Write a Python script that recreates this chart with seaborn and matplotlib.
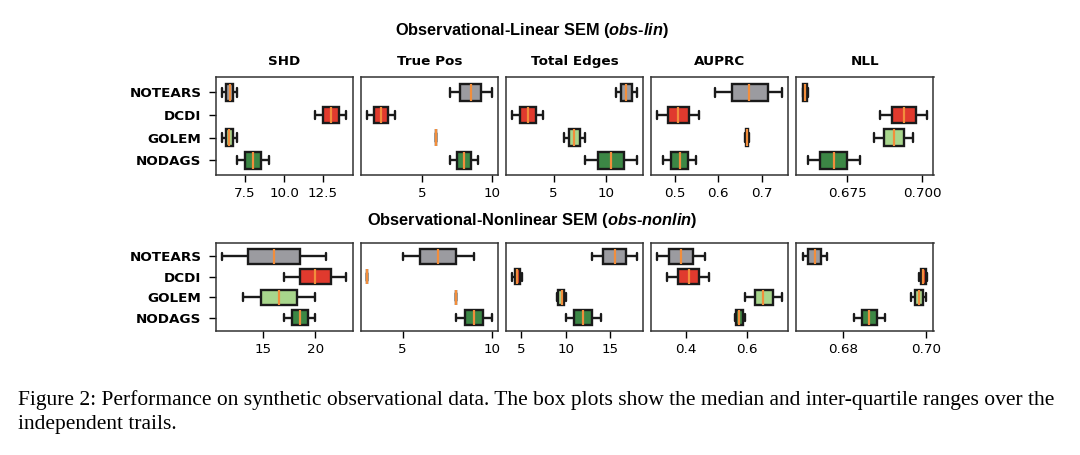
import numpy as np
import pandas as pd
import matplotlib
matplotlib.use("Agg")
import matplotlib.pyplot as plt
import seaborn as sns

# ---------------- data ----------------
methods = ["NOTEARS", "DCDI", "GOLEM", "NODAGS"]
colors = ["#9b9ba0", "#e03a2e", "#a8d68c", "#3c8745"]
metrics = ["SHD", "True Pos", "Total Edges", "AUPRC", "NLL"]

# per method: five-number summary (min, q1, median, q3, max)
lin_shd = [[6.0, 6.25, 6.5, 6.75, 7.0], [12.0, 12.5, 13.0, 13.5, 14.0],
           [6.0, 6.25, 6.45, 6.75, 7.0], [7.0, 7.5, 8.0, 8.5, 9.0]]
lin_tp = [[7, 7.75, 8.5, 9.25, 10], [1, 1.5, 2, 2.5, 3],
          [6, 6, 6, 6, 6], [7, 7.5, 8, 8.5, 9]]
lin_te = [[11, 11.5, 12, 12.5, 13], [1, 1.75, 2.5, 3.25, 4],
          [6, 6.5, 7, 7.5, 8], [8, 9.25, 10.5, 11.75, 13]]
lin_auprc = [[0.593, 0.631, 0.670, 0.715, 0.747], [0.460, 0.484, 0.508, 0.532, 0.555],
             [0.662, 0.665, 0.667, 0.669, 0.671], [0.473, 0.492, 0.513, 0.530, 0.549]]
lin_nll = [[0.6600, 0.6603, 0.6609, 0.6616, 0.6620], [0.6858, 0.6898, 0.6938, 0.6978, 0.7017],
           [0.6840, 0.6873, 0.6906, 0.6938, 0.6970], [0.6617, 0.6660, 0.6704, 0.6750, 0.6792]]

nonlin_shd = [[11, 13.5, 16, 18.5, 21], [17, 18.5, 20, 21.5, 23],
              [13, 14.75, 16.5, 18.25, 20], [17, 17.75, 18.5, 19.25, 20]]
nonlin_tp = [[5, 6, 7, 8, 9], [3, 3, 3, 3, 3],
             [8, 8, 8, 8, 8], [8, 8.5, 9, 9.5, 10]]
nonlin_te = [[13, 14.25, 15.5, 16.75, 18], [4.0, 4.3, 4.6, 4.9, 5.1],
             [9, 9.2, 9.55, 9.85, 10.1], [10, 11, 12, 13, 14]]
nonlin_auprc = [[0.306, 0.344, 0.383, 0.423, 0.462], [0.338, 0.373, 0.408, 0.441, 0.476],
                [0.594, 0.624, 0.653, 0.684, 0.714], [0.559, 0.564, 0.574, 0.585, 0.592]]
nonlin_nll = [[0.6704, 0.6718, 0.6734, 0.6749, 0.6762], [0.6982, 0.6986, 0.6992, 0.6998, 0.7002],
              [0.6962, 0.6972, 0.6982, 0.6992, 0.7000], [0.6826, 0.6845, 0.6864, 0.6882, 0.6902]]

lin_ticks = [[7.5, 10.0, 12.5], [5, 10], [5, 10], [0.5, 0.6, 0.7], [0.675, 0.700]]
lin_ticklabels = [["7.5", "10.0", "12.5"], ["5", "10"], ["5", "10"],
                  ["0.5", "0.6", "0.7"], ["0.675", "0.700"]]
nonlin_ticks = [[15, 20], [5, 10], [5, 10, 15], [0.4, 0.6], [0.68, 0.70]]
nonlin_ticklabels = [["15", "20"], ["5", "10"], ["5", "10", "15"],
                     ["0.4", "0.6"], ["0.68", "0.70"]]

row_titles = ["Observational-Linear SEM ($\\it{obs}$-$\\it{lin}$)",
              "Observational-Nonlinear SEM ($\\it{obs}$-$\\it{nonlin}$)"]
caption_lines = ["Figure 2: Performance on synthetic observational data. The box plots show the median and "
                 "inter-quartile ranges over the",
                 "independent trails."]

# ---------------- plotting ----------------
sns.set_style("white")
plt.rcParams["font.family"] = ["DejaVu Sans"]
plt.rcParams["text.color"] = "black"
plt.rcParams["axes.labelcolor"] = "black"
plt.rcParams["xtick.color"] = "black"
plt.rcParams["ytick.color"] = "black"
plt.rcParams["mathtext.fontset"] = "custom"
plt.rcParams["mathtext.it"] = "Liberation Sans:italic:bold"
plt.rcParams["mathtext.rm"] = "Liberation Sans:bold"
plt.rcParams["mathtext.bf"] = "Liberation Sans:bold"

W, H = 1080, 455
fig = plt.figure(figsize=(W / 100, H / 100), dpi=100)

rows = [
    dict(data=[lin_shd, lin_tp, lin_te, lin_auprc, lin_nll], ticks=lin_ticks,
         labels=lin_ticklabels, top=77, bottom=174.5, titles=True),
    dict(data=[nonlin_shd, nonlin_tp, nonlin_te, nonlin_auprc, nonlin_nll], ticks=nonlin_ticks,
         labels=nonlin_ticklabels, top=242.5, bottom=330.5, titles=False),
]

left_px, right_px = 215.5, 933.5
FS = 9.7
for r, row in enumerate(rows):
    gs = fig.add_gridspec(1, 5, left=left_px / W, right=right_px / W,
                          top=1 - row["top"] / H, bottom=1 - row["bottom"] / H, wspace=0.058)
    for c in range(5):
        ax = fig.add_subplot(gs[0, c])
        vals = row["data"][c]
        df = pd.DataFrame({
            "method": np.repeat(methods, [len(v) for v in vals]),
            "value": np.concatenate([np.asarray(v, float) for v in vals]),
        })
        sns.boxplot(data=df, x="value", y="method", hue="method", order=methods,
                    hue_order=methods, palette=colors, saturation=1, legend=False,
                    orient="h", width=0.75, whis=(0, 100), showfliers=False,
                    linecolor="#1a1a1a", linewidth=1.7,
                    medianprops={"color": "#f28e3c", "linewidth": 1.6}, ax=ax)
        ax.set_ylim(3.63, -0.68)
        ax.set_xlabel("")
        ax.set_ylabel("")
        ax.set_xticks(row["ticks"][c], row["labels"][c])
        ax.tick_params(axis="x", length=5, width=1, pad=4, labelsize=FS, colors="black",
                       bottom=True)
        if c == 0:
            ax.tick_params(axis="y", length=5, width=1, pad=5, labelsize=FS, left=True,
                           colors="black")
            for t in ax.get_yticklabels():
                t.set_fontweight("bold")
        else:
            ax.set_yticks([])
        for s in ax.spines.values():
            s.set_color("#333333")
            s.set_linewidth(1.1)
        if row["titles"]:
            ax.set_title(metrics[c], fontsize=FS, fontweight="bold", pad=9, color="black")

fig.text(0.4925, 1 - 31 / H, row_titles[0], ha="center", va="center", fontsize=11.8,
         fontweight="bold", family=["Liberation Sans"], color="black")
fig.text(0.4925, 1 - 220 / H, row_titles[1], ha="center", va="center", fontsize=11.8,
         fontweight="bold", family=["Liberation Sans"], color="black")

for i, line in enumerate(caption_lines):
    fig.text(18 / W, 1 - (405 + 24 * i) / H, line, ha="left", va="baseline", fontsize=15.5,
             family=["Liberation Serif"], color="black")

fig.savefig("out.png", dpi=100)
